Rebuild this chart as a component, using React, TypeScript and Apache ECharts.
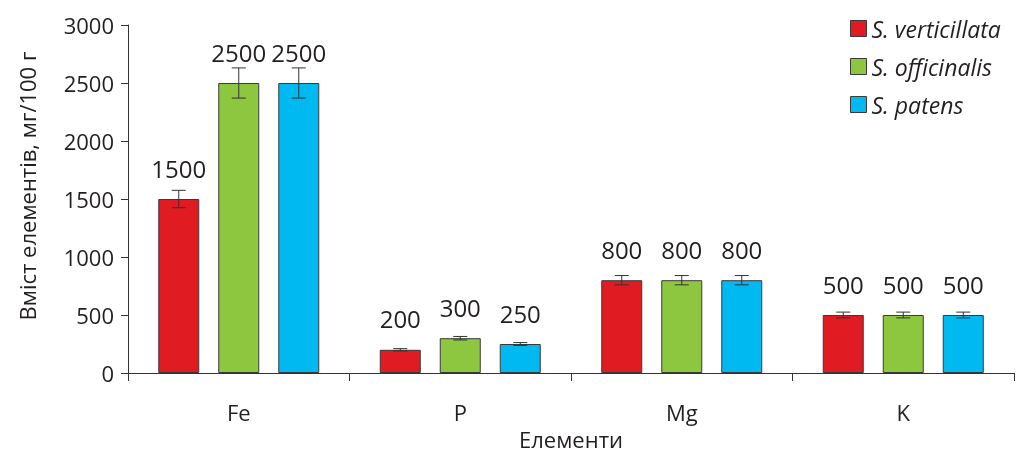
import React, { useEffect, useRef } from "react";
import * as echarts from "echarts";

const categories = ["Fe", "P", "Mg", "K"];
const seriesNames = ["S. verticillata", "S. officinalis", "S. patens"];
const verticillata = [1500, 200, 800, 500];
const officinalis = [2500, 300, 800, 500];
const patens = [2500, 250, 800, 500];
const errVerticillata = [75, 10, 40, 25];
const errOfficinalis = [130, 15, 40, 25];
const errPatens = [130, 12, 40, 25];
const yTicks = [0, 500, 1000, 1500, 2000, 2500, 3000];

const colors = ["#e11b22", "#8dc63f", "#00b9f1"];
const FONT = "'Open Sans', sans-serif";
const TXT = "#231f20";
const BAR_W = 41;
const GAP = 19;

export default function App() {
  const ref = useRef<HTMLDivElement>(null);
  useEffect(() => {
    const chart = echarts.init(ref.current!, null, { renderer: "svg" });
    const values = [verticillata, officinalis, patens];
    const errs = [errVerticillata, errOfficinalis, errPatens];
    const barSeries = values.map((v, i) => ({
      type: "bar",
      name: seriesNames[i],
      data: v,
      barWidth: BAR_W,
      barGap: (GAP / BAR_W) * 100 + "%",
      itemStyle: { color: colors[i], borderColor: "#3a3a3a", borderWidth: 1 },
      label: {
        show: true,
        position: "top",
        distance: 19,
        fontFamily: FONT,
        fontSize: 24,
        color: TXT,
      },
    }));
    const errSeries = values.map((v, i) => ({
      type: "custom",
      name: seriesNames[i] + " err",
      data: v.map((val, j) => [j, val, errs[i][j]]),
      z: 10,
      silent: true,
      renderItem: (params: any, api: any) => {
        const idx = api.value(0);
        const val = api.value(1);
        const e = api.value(2);
        const off = (i - 1) * (BAR_W + GAP);
        const top = api.coord([idx, val + e]);
        const bot = api.coord([idx, val - e]);
        const x = top[0] + off;
        const cap = 7;
        const st = { stroke: "#333", lineWidth: 1 };
        return {
          type: "group",
          children: [
            { type: "line", shape: { x1: x, y1: top[1], x2: x, y2: bot[1] }, style: st },
            { type: "line", shape: { x1: x - cap, y1: top[1], x2: x + cap, y2: top[1] }, style: st },
            { type: "line", shape: { x1: x - cap, y1: bot[1], x2: x + cap, y2: bot[1] }, style: st },
          ],
        };
      },
    }));
    chart.setOption({
      animation: false,
      textStyle: { fontFamily: FONT },
      grid: {
        left: 128,
        right: 3,
        top: 25,
        bottom: 80,
        containLabel: false,
        outerBoundsMode: "none",
      },
      legend: {
        data: seriesNames,
        orient: "vertical",
        left: 845,
        top: 12,
        itemWidth: 16,
        itemHeight: 16,
        itemGap: 15,
        icon: "rect",
        itemStyle: { borderColor: "#3a3a3a", borderWidth: 1 },
        textStyle: { fontFamily: FONT, fontSize: 23, fontStyle: "italic", color: TXT, lineHeight: 22 },
      },
      xAxis: {
        type: "category",
        data: categories,
        name: "Елементи",
        nameLocation: "middle",
        nameGap: 55,
        nameTextStyle: { fontFamily: FONT, fontSize: 22, color: TXT },
        axisLine: { lineStyle: { color: "#333", width: 1 } },
        axisTick: { show: true, length: 8, lineStyle: { color: "#333" } },
        axisLabel: { fontFamily: FONT, fontSize: 22, color: TXT, margin: 28 },
      },
      yAxis: {
        type: "value",
        min: yTicks[0],
        max: yTicks[yTicks.length - 1],
        interval: 500,
        splitLine: { show: false },
        axisLine: { show: true, lineStyle: { color: "#333", width: 1 } },
        axisTick: { show: true, length: 7, lineStyle: { color: "#333" } },
        axisLabel: {
          fontFamily: FONT,
          fontSize: 22,
          color: TXT,
          margin: 14,
          formatter: (v: number) => String(v),
        },
      },
      graphic: [
        {
          type: "text",
          x: 27,
          y: 186,
          rotation: Math.PI / 2,
          style: {
            text: "Вміст елементів, мг/100 г",
            fontFamily: FONT,
            fontSize: 22,
            fill: TXT,
            textAlign: "center",
            textVerticalAlign: "middle",
          },
        },
      ],
      series: [...barSeries, ...errSeries],
    });
    return () => chart.dispose();
  }, []);
  return (
    <div
      ref={ref}
      style={{ position: "fixed", left: 0, top: 0, width: 1017, height: 453 }}
    />
  );
}
